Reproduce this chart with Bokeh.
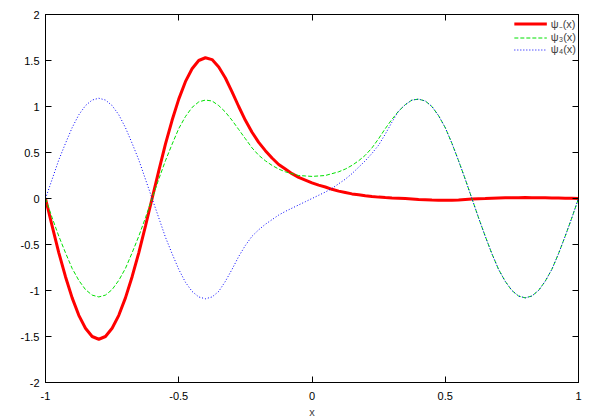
from bokeh.plotting import figure
from bokeh.models import FixedTicker, LinearAxis, Legend, LegendItem, Range1d
from bokeh.embed import file_html
from bokeh.resources import INLINE

x = [-1.0, -0.975, -0.95, -0.925, -0.9, -0.875, -0.85, -0.825, -0.8, -0.775,
     -0.75, -0.725, -0.7, -0.675, -0.65, -0.625, -0.6, -0.575, -0.55, -0.525,
     -0.5, -0.475, -0.45, -0.425, -0.4, -0.375, -0.35, -0.325, -0.3, -0.275,
     -0.25, -0.225, -0.2, -0.175, -0.15, -0.125, -0.1, -0.075, -0.05, -0.025,
     0.0, 0.025, 0.05, 0.075, 0.1, 0.125, 0.15, 0.175, 0.2, 0.225,
     0.25, 0.275, 0.3, 0.325, 0.35, 0.375, 0.4, 0.425, 0.45, 0.475,
     0.5, 0.525, 0.55, 0.575, 0.6, 0.625, 0.65, 0.675, 0.7, 0.725,
     0.75, 0.775, 0.8, 0.825, 0.85, 0.875, 0.9, 0.925, 0.95, 0.975, 1.0]

psi_minus = [0.0, -0.30, -0.59, -0.85, -1.08, -1.27, -1.41, -1.50, -1.53, -1.50,
             -1.41, -1.27, -1.08, -0.85, -0.59, -0.30, 0.0, 0.30, 0.59, 0.85,
             1.08, 1.27, 1.41, 1.50, 1.53, 1.51, 1.43, 1.31, 1.16, 1.00,
             0.85, 0.72, 0.61, 0.52, 0.44, 0.37, 0.32, 0.27, 0.23, 0.20,
             0.17, 0.145, 0.125, 0.10, 0.08, 0.065, 0.05, 0.04, 0.03, 0.022,
             0.015, 0.01, 0.006, 0.003, 0.0, -0.005, -0.01, -0.013, -0.016, -0.018,
             -0.02, -0.018, -0.015, -0.01, -0.005, -0.002, 0.0, 0.003, 0.005, 0.007,
             0.008, 0.009, 0.01, 0.009, 0.009, 0.008, 0.006, 0.005, 0.003, 0.002, 0.0]

psi3 = [0.0, -0.21, -0.41, -0.59, -0.76, -0.89, -0.99, -1.05, -1.07, -1.05,
        -0.99, -0.89, -0.76, -0.59, -0.41, -0.21, 0.0, 0.21, 0.41, 0.59,
        0.76, 0.89, 0.99, 1.05, 1.07, 1.06, 1.01, 0.94, 0.85, 0.75,
        0.65, 0.55, 0.47, 0.41, 0.36, 0.32, 0.29, 0.27, 0.25, 0.245,
        0.24, 0.245, 0.25, 0.27, 0.29, 0.32, 0.36, 0.41, 0.47, 0.55,
        0.65, 0.76, 0.86, 0.95, 1.02, 1.07, 1.08, 1.06, 1.00, 0.90,
        0.77, 0.60, 0.41, 0.21, 0.0, -0.21, -0.41, -0.60, -0.77, -0.90,
        -1.00, -1.06, -1.08, -1.06, -1.00, -0.90, -0.77, -0.60, -0.41, -0.21, 0.0]

psi4 = [0.0, 0.21, 0.42, 0.60, 0.77, 0.91, 1.01, 1.07, 1.09, 1.07,
        1.01, 0.91, 0.77, 0.60, 0.42, 0.21, 0.0, -0.21, -0.42, -0.60,
        -0.77, -0.91, -1.01, -1.07, -1.09, -1.07, -1.01, -0.90, -0.77, -0.63,
        -0.51, -0.41, -0.34, -0.28, -0.23, -0.18, -0.14, -0.105, -0.07, -0.035,
        0.0, 0.035, 0.07, 0.11, 0.16, 0.21, 0.27, 0.34, 0.41, 0.49,
        0.58, 0.70, 0.83, 0.95, 1.02, 1.07, 1.08, 1.06, 1.00, 0.90,
        0.77, 0.60, 0.41, 0.21, 0.0, -0.21, -0.41, -0.60, -0.77, -0.90,
        -1.00, -1.06, -1.08, -1.06, -1.00, -0.90, -0.77, -0.60, -0.41, -0.21, 0.0]

x_ticks = [-1, -0.5, 0, 0.5, 1]
x_tick_labels = ["-1", "-0.5", "0", "0.5", "1"]
y_ticks = [-2, -1.5, -1, -0.5, 0, 0.5, 1, 1.5, 2]
y_tick_labels = ["-2", "-1.5", "-1", "-0.5", "0", "0.5", "1", "1.5", "2"]

FONT = "Liberation Sans"

p = figure(frame_width=533, frame_height=368, output_backend="svg",
           toolbar_location=None, x_range=Range1d(-1, 1), y_range=Range1d(-2, 2),
           min_border_left=45, min_border_right=14, min_border_top=14, min_border_bottom=36)
p.xgrid.visible = False
p.ygrid.visible = False
p.outline_line_color = "black"
p.outline_line_width = 1
p.background_fill_color = "white"
p.border_fill_color = "white"

def style_axis(ax, ticks, labels, show_labels=True):
    ax.ticker = FixedTicker(ticks=ticks)
    if show_labels:
        ax.major_label_overrides = {t: l for t, l in zip(ticks, labels)}
    else:
        ax.major_label_overrides = {t: "" for t in ticks}
        ax.major_label_standoff = 0
    ax.major_tick_in = 6
    ax.major_tick_out = 0
    ax.minor_tick_in = 0
    ax.minor_tick_out = 0
    ax.major_tick_line_color = "black"
    ax.axis_line_color = "black"
    ax.major_label_text_font = FONT
    ax.major_label_text_font_size = "11px"
    ax.major_label_text_color = "black"

style_axis(p.xaxis[0], x_ticks, x_tick_labels)
style_axis(p.yaxis[0], y_ticks, y_tick_labels)
p.xaxis[0].major_label_standoff = 9
p.yaxis[0].major_label_standoff = 6
p.xaxis[0].axis_label = "x"
p.xaxis[0].axis_label_text_font = FONT
p.xaxis[0].axis_label_text_font_size = "11px"
p.xaxis[0].axis_label_text_font_style = "normal"
p.xaxis[0].axis_label_standoff = 3

top = LinearAxis()
right = LinearAxis()
style_axis(top, x_ticks, x_tick_labels, show_labels=False)
style_axis(right, y_ticks, y_tick_labels, show_labels=False)
p.add_layout(top, "above")
p.add_layout(right, "right")

r1 = p.line(x, psi_minus, line_color="#ff0000", line_width=3)
r2 = p.line(x, psi3, line_color="#00e000", line_width=1, line_dash="4 2")
r3 = p.line(x, psi4, line_color="#0000ff", line_width=1, line_dash="1 2")

legend = Legend(items=[LegendItem(label="ψ₋(x)", renderers=[r1]),
                       LegendItem(label="ψ₃(x)", renderers=[r2]),
                       LegendItem(label="ψ₄(x)", renderers=[r3])],
                location="top_right")
legend.border_line_color = None
legend.background_fill_alpha = 0
legend.label_text_font = FONT
legend.label_text_font_size = "11px"
legend.label_height = 11
legend.glyph_height = 11
legend.glyph_width = 33
legend.spacing = 0
legend.padding = 2
legend.margin = 2
legend.label_standoff = 4
legend.label_text_line_height = 1.0
p.add_layout(legend)

open("out.html", "w").write(file_html(p, INLINE))
